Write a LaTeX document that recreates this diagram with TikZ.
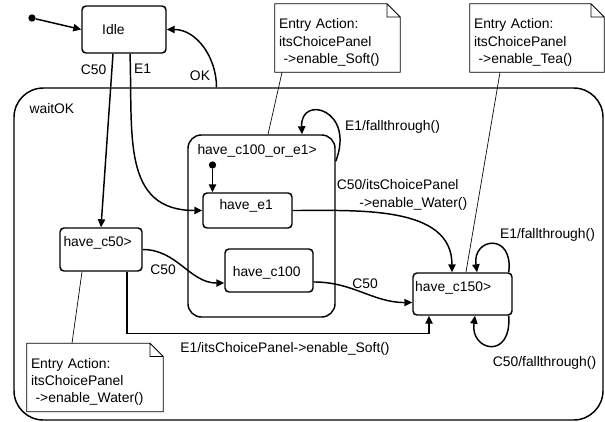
\documentclass[tikz,border=0pt]{standalone}
\usepackage{fontspec}
\setmainfont{Liberation Sans}
\usetikzlibrary{arrows.meta, positioning}

\begin{document}
\begin{tikzpicture}[
    x=0.75pt, y=0.75pt,
    every node/.style={font=\fontsize{10.4}{12.9}\selectfont},
    state/.style={draw, rounded corners=3pt, line width=1.1pt, inner sep=0pt},
    tag/.style={inner sep=0pt, anchor=north west},
    init/.style={circle, fill, inner sep=0pt, minimum size=5.5pt},
    note/.style={inner xsep=3pt, inner ysep=0pt, minimum height=51pt,
                 text height=14.3pt, text depth=28pt, align=left},
    trans/.style={->, line width=1.1pt},
    pin/.style={line width=0.5pt},
    >={Triangle[length=6pt,width=5.5pt]}
]
\useasboundingbox (0,0) rectangle (605,-421);

% States placed manually at their centres
\node[state, rounded corners=22pt, minimum width=441.75pt, minimum height=249pt,
      label={[tag, xshift=12pt, yshift=-12pt]north west:waitOK}] (wait) at (308.5,-254) {};
\node[state, rounded corners=10pt, minimum width=110.25pt, minimum height=136.5pt,
      label={[tag, xshift=7.5pt, yshift=-7.5pt]north west:have\_c100\_or\_e1>}] (comp) at (261.5,-226) {};
\node[state, minimum width=63pt, minimum height=35.25pt,
      label={[tag, xshift=15.5pt, yshift=-14.25pt]north west:Idle}] (idle) at (124,-29.5) {};
\node[state, minimum width=61.5pt, minimum height=32.25pt,
      label={[tag, xshift=3pt, yshift=-6.75pt]north west:have\_c50>}] (c50) at (101,-249.5) {};
\node[state, minimum width=66.75pt, minimum height=26.25pt,
      label={[tag, xshift=12.75pt, yshift=-5.25pt]north west:have\_e1}] (e1) at (247.5,-210.5) {};
\node[state, minimum width=66pt, minimum height=32.25pt,
      label={[tag, xshift=6.2pt, yshift=-13.3pt]north west:have\_c100}] (c100) at (269,-270.5) {};
\node[state, minimum width=74.25pt, minimum height=31.5pt,
      label={[tag, xshift=2pt, yshift=-6.5pt]north west:have\_c150>}] (c150) at (462.5,-294) {};

% Initial states
\node[init] (start) at (32,-18) {};
\node[init] (start2) at (212.5,-165) {};

% Notes
\node[note, text width=87.75pt] (soft) at (337.5,-38)
    {Entry Action:\\itsChoicePanel\\\ ->enable\_Soft()};
\node[note, text width=94.5pt] (tea) at (537,-38)
    {Entry Action:\\itsChoicePanel\\\ ->enable\_Tea()};
\node[note, text width=96pt] (water) at (95,-377.5)
    {Entry Action:\\itsChoicePanel\\\ ->enable\_Water()};

\foreach \n in {soft, tea, water}
  \draw[line width=0.6pt] (\n.north west) -- ([xshift=-10pt]\n.north east)
      -- ([yshift=-10pt]\n.north east) -- (\n.south east) -- (\n.south west) -- cycle
      ([xshift=-10pt]\n.north east) |- ([yshift=-10pt]\n.north east);

\draw[pin] ([xshift=-41.6pt]soft.south) -- ([xshift=4.9pt]comp.north);
\draw[pin] ([xshift=-27.75pt]tea.south) -- ([xshift=2.6pt]c150.north);
\draw[pin] ([xshift=-17.25pt]water.north) -- ([xshift=-14.25pt]c50.south);

% Transition labels
\node (lc50a) at (93.5,-70) {C50};
\node (le1a) at (142.5,-69) {E1};
\node (lok) at (200,-76) {OK};
\node (lc50b) at (163,-270) {C50};
\node (lc50c) at (365,-284) {C50};
\node[align=left] (lwater) at (402,-195)
    {C50/itsChoicePanel\\\hspace*{17pt}->enable\_Water()};
\node (lsoft) at (285,-349) {E1/itsChoicePanel->enable\_Soft()};
\node (lfall1) at (392.5,-127) {E1/fallthrough()};
\node (lfall2) at (547.5,-235) {E1/fallthrough()};
\node (lfall3) at (544.5,-363) {C50/fallthrough()};

% Transitions
\draw[trans] (start) -- (idle.west);
\draw[trans] ([xshift=-8.25pt]idle.south) -- (c50.north);
\draw[trans] ([xshift=4.5pt]idle.south) to[out=-88, in=180, looseness=1.2] (e1.west);
\draw[trans] ([xshift=-69pt]wait.north) to[out=90, in=0] (idle.east);
\draw[trans] (start2) -- ([xshift=-26.25pt]e1.north);
\draw[trans] ([yshift=-20.25pt]comp.north east) .. controls +(20,52) and +(-2,40) .. ([xshift=30.4pt]comp.north);
\draw[trans] (e1.east) to[out=0, in=90] ([xshift=-7.9pt]c150.north);
\draw[trans] (c50.east) to[out=0, in=180] ([yshift=-9.4pt]c100.west);
\draw[trans] ([yshift=-8.6pt]c100.east) to[out=0, in=180] ([yshift=-6.4pt]c150.west);
\draw[trans] ([xshift=19.5pt]c50.south) -- ++(0,-62) -| ([xshift=-25.1pt]c150.south);
\draw[trans] ([xshift=-3pt]c150.north east) .. controls +(5,40) and +(-5,35) .. ([xshift=10.9pt]c150.north);
\draw[trans] ([xshift=-3pt]c150.south east) .. controls +(3,-45) and +(-5,-35) .. ([xshift=9.4pt]c150.south);
\end{tikzpicture}
\end{document}
